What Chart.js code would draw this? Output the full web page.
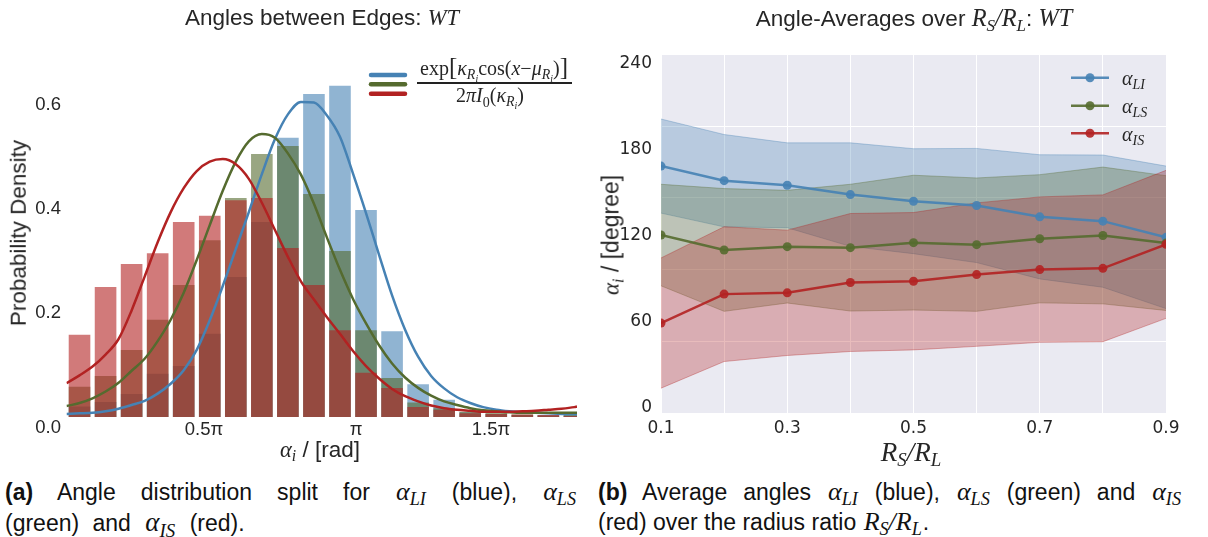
<!DOCTYPE html>
<html>
<head>
<meta charset="utf-8">
<title>Angles between Edges</title>
<script src="https://cdn.jsdelivr.net/npm/chart.js@4.4.0/dist/chart.umd.min.js"></script>
<style>
  body { margin: 0; background: #fff; }
  #page { position: relative; width: 1208px; height: 537px; overflow: hidden;
          font-family: "Liberation Sans", Arial, sans-serif; color: #262626; }
  canvas { position: absolute; top: 0; }
  .t { position: absolute; white-space: nowrap; transform: translate(-50%, -50%); line-height: 1; }
  .rot { transform: translate(-50%, -50%) rotate(-90deg); }
  .m { font-family: "Liberation Serif", "DejaVu Serif", serif; font-style: italic; }
  .up { font-style: normal; }
  sub { font-size: 0.7em; vertical-align: -0.3em; line-height: 0; }
  .cap { position: absolute; font-size: 23px; line-height: 30px; color: #111;
         font-family: "Liberation Sans", Arial, sans-serif; white-space: nowrap; }
  .cap .j { text-align: justify; text-align-last: justify; white-space: normal; }
  .cap .m { font-size: 26px; padding: 0 1px; }
  .leg { position: absolute; transform: translateY(-50%); font-size: 20px; line-height: 1; white-space: nowrap; }
</style>
</head>
<body>
<div id="page">
  <canvas id="hist" width="600" height="470" style="left:0"></canvas>
  <canvas id="avg" width="608" height="470" style="left:600px"></canvas>

  <div class="t" style="left:322px;top:18px;font-size:22.5px">Angles between Edges: <span class="m">WT</span></div>
  <div class="t" style="left:914px;top:18px;font-size:22.5px">Angle-Averages over <span class="m" style="font-size:1.08em">R<sub>S</sub>/R<sub>L</sub></span>: <span class="m" style="font-size:1.08em">WT</span></div>

  <div class="t rot" style="left:19px;top:233px;font-size:22.5px">Probability Density</div>
  <div class="t" style="left:320px;top:450px;font-size:22.5px"><span class="m">α<sub>i</sub></span> / [rad]</div>
  <div class="t m" style="left:911px;top:452px;font-size:27px">R<sub>S</sub>/R<sub>L</sub></div>
  <div class="t rot" style="left:611px;top:235px;font-size:23px"><span class="m">α<sub>i</sub></span> / [degree]</div>

  <!-- von Mises density shown next to the fit swatches -->
  <div class="t m" style="left:494px;top:67px;font-size:20px"><span class="up">exp</span><span class="up" style="font-size:1.25em">[</span>κ<sub>R<sub>i</sub></sub><span class="up">cos(</span>x<span class="up">−</span>μ<sub>R<sub>i</sub></sub><span class="up">)</span><span class="up" style="font-size:1.25em">]</span></div>
  <div style="position:absolute;left:417px;top:82px;width:155px;height:1.5px;background:#222"></div>
  <div class="t m" style="left:490px;top:96px;font-size:20px"><span class="up">2</span>π<span>I</span><sub class="up">0</sub><span class="up">(</span>κ<sub>R<sub>i</sub></sub><span class="up">)</span></div>

  <div class="leg m" style="left:1122px;top:78px">α<sub>LI</sub></div>
  <div class="leg m" style="left:1122px;top:106px">α<sub>LS</sub></div>
  <div class="leg m" style="left:1122px;top:134px">α<sub>IS</sub></div>

  <div class="cap" style="left:5px;top:477px;width:572px">
    <div class="j"><b>(a)</b> Angle distribution split for <span class="m">α<sub>LI</sub></span> (blue), <span class="m">α<sub>LS</sub></span></div>
    <div style="word-spacing:7px">(green) and <span class="m" style="font-size:27px">α<sub>IS</sub></span> (red).</div>
  </div>
  <div class="cap" style="left:598px;top:477px;width:584px">
    <div class="j"><b>(b)</b> Average angles <span class="m">α<sub>LI</sub></span> (blue), <span class="m">α<sub>LS</sub></span> (green) and <span class="m">α<sub>IS</sub></span></div>
    <div>(red) over the radius ratio <span class="m">R<sub>S</sub>/R<sub>L</sub></span>.</div>
  </div>
</div>

<script>
// ---- histogram of edge angles (bin index along x) ----
const binCenters = [0, 1, 2, 3, 4, 5, 6, 7, 8, 9, 10, 11, 12, 13, 14, 15, 16, 17, 18, 19];
const histLI = [0.020, 0.029, 0.044, 0.083, 0.098, 0.160, 0.269, 0.375, 0.537, 0.621,
                0.637, 0.398, 0.165, 0.063, 0.033, 0.009, 0.006, 0.004, 0.004, 0.004];
const histLS = [0.058, 0.079, 0.129, 0.187, 0.254, 0.340, 0.421, 0.506, 0.521, 0.429,
                0.319, 0.167, 0.075, 0.028, 0.017, 0.010, 0.009, 0.005, 0.003, 0.004];
const histIS = [0.158, 0.250, 0.294, 0.315, 0.375, 0.387, 0.417, 0.421, 0.325, 0.254,
                0.167, 0.085, 0.056, 0.019, 0.014, 0.007, 0.006, 0.005, 0.004, 0.002];

// fitted von Mises densities, sampled along the same bin axis
const curveX = [-0.5, 0, 0.5, 1, 1.5, 2, 2.5, 3, 3.5, 4, 4.5, 5, 5.5, 6, 6.5, 7, 7.5, 8, 8.5, 9,
                9.5, 10, 10.5, 11, 11.5, 12, 12.5, 13, 13.5, 14, 14.5, 15, 15.5, 16, 16.5, 17, 17.5, 18, 18.5, 19, 19.1];
const fitLI = [0.006, 0.007, 0.008, 0.011, 0.016, 0.023, 0.031, 0.045, 0.064, 0.090, 0.129, 0.186, 0.252, 0.323,
               0.394, 0.467, 0.534, 0.582, 0.606, 0.605, 0.580, 0.539, 0.468, 0.392, 0.312, 0.234, 0.168, 0.116,
               0.079, 0.055, 0.038, 0.027, 0.019, 0.014, 0.011, 0.009, 0.008, 0.007, 0.006, 0.006, 0.006];
const fitLS = [0.021, 0.027, 0.036, 0.049, 0.066, 0.089, 0.112, 0.146, 0.187, 0.239, 0.302, 0.369, 0.435, 0.491,
               0.530, 0.544, 0.537, 0.507, 0.466, 0.410, 0.345, 0.283, 0.227, 0.180, 0.138, 0.103, 0.076, 0.056,
               0.041, 0.030, 0.023, 0.017, 0.013, 0.011, 0.009, 0.008, 0.008, 0.008, 0.008, 0.008, 0.008];
const fitIS = [0.065, 0.080, 0.097, 0.120, 0.150, 0.205, 0.270, 0.336, 0.394, 0.440, 0.473, 0.491, 0.496, 0.486,
               0.458, 0.412, 0.360, 0.308, 0.261, 0.226, 0.192, 0.160, 0.127, 0.098, 0.074, 0.054, 0.040, 0.030,
               0.022, 0.017, 0.014, 0.012, 0.010, 0.010, 0.010, 0.011, 0.012, 0.014, 0.016, 0.019, 0.020];

const histTickLabels = ['0.5π', 'π', '1.5π'];
const histYTicks = [0, 0.2, 0.4, 0.6];

// ---- averages over the radius ratio ----
const rsRatio = [0.1, 0.2, 0.3, 0.4, 0.5, 0.6, 0.7, 0.8, 0.9];
const meanLI  = [172.2, 162.0, 158.8, 152.3, 147.7, 144.7, 136.8, 133.8, 122.5];
const upperLI = [205.0, 194.2, 188.4, 188.4, 184.3, 184.5, 180.1, 179.9, 172.2];
const lowerLI = [139.4, 129.8, 129.2, 116.2, 111.1, 104.9, 93.5, 87.7, 72.8];
const meanLS  = [124.1, 113.7, 116.0, 115.3, 118.8, 117.4, 121.5, 123.8, 118.5];
const upperLS = [159.5, 156.5, 155.3, 159.5, 165.8, 163.9, 166.2, 171.5, 165.5];
const lowerLS = [88.7, 70.9, 76.7, 71.1, 71.8, 70.9, 76.8, 76.1, 71.5];
const meanIS  = [62.7, 82.9, 83.8, 91.0, 91.9, 96.5, 100.0, 100.9, 117.6];
const upperIS = [108.1, 129.9, 127.5, 139.1, 139.8, 146.5, 150.7, 152.1, 169.2];
const lowerIS = [17.3, 35.9, 40.1, 42.9, 44.0, 46.5, 49.3, 49.7, 66.0];
const avgYLabels = [0, 60, 120, 180, 240];
const avgYGrid = [0, 50, 100, 150, 200, 250];

const BLUE = [70, 130, 180], GREEN = [85, 107, 47], RED = [178, 34, 34];
const rgba = (c, a) => `rgba(${c[0]},${c[1]},${c[2]},${a})`;
const pts = (xs, ys) => xs.map((x, i) => ({ x, y: ys[i] }));
const TXT = '#262626';

// draws the small legend swatches on the canvas
const swatchPlugin = {
  id: 'swatches',
  afterDraw(chart, args, opts) {
    const ctx = chart.ctx;
    ctx.save();
    opts.items.forEach(it => {
      ctx.strokeStyle = it.color;
      ctx.lineWidth = opts.lineWidth;
      ctx.lineCap = opts.cap;
      ctx.beginPath();
      ctx.moveTo(opts.x0, it.y);
      ctx.lineTo(opts.x1, it.y);
      ctx.stroke();
      if (opts.dot) {
        ctx.fillStyle = it.color;
        ctx.beginPath();
        ctx.arc((opts.x0 + opts.x1) / 2, it.y, opts.dot, 0, Math.PI * 2);
        ctx.fill();
      }
    });
    ctx.restore();
  }
};

// plot-area background
const panelPlugin = {
  id: 'panel',
  beforeDraw(chart, args, opts) {
    if (!opts.color) return;
    const a = chart.chartArea, ctx = chart.ctx;
    ctx.save();
    ctx.fillStyle = opts.color;
    ctx.fillRect(a.left, a.top, a.right - a.left, a.bottom - a.top);
    ctx.restore();
  }
};

Chart.register(swatchPlugin, panelPlugin);

const fitLine = (label, xs, ys, c, order) => ({
  type: 'line', label, data: pts(xs, ys), borderColor: rgba(c, 1), borderWidth: 2.5,
  pointRadius: 0, cubicInterpolationMode: 'monotone', fill: false, order
});
const histBars = (label, ys, c, order) => ({
  type: 'bar', label, data: pts(binCenters, ys), backgroundColor: rgba(c, 0.6),
  borderWidth: 0, grouped: false, barPercentage: 0.83, categoryPercentage: 1, order
});

new Chart(document.getElementById('hist'), {
  type: 'bar',
  data: {
    datasets: [
      fitLine('fit IS', curveX, fitIS, RED, 0),
      fitLine('fit LS', curveX, fitLS, GREEN, 1),
      fitLine('fit LI', curveX, fitLI, BLUE, 2),
      histBars('IS', histIS, RED, 3),
      histBars('LS', histLS, GREEN, 4),
      histBars('LI', histLI, BLUE, 5)
    ]
  },
  options: {
    responsive: false, animation: false, devicePixelRatio: 1,
    layout: { padding: { top: 63.4, right: 23, left: 0, bottom: 0 } },
    plugins: {
      legend: { display: false }, tooltip: { enabled: false },
      panel: {},
      swatches: { x0: 371, x1: 405, lineWidth: 4.5, cap: 'round', dot: 0,
                  items: [{ y: 75, color: rgba(BLUE, 1) }, { y: 84.3, color: rgba(GREEN, 1) }, { y: 93.7, color: rgba(RED, 1) }] }
    },
    scales: {
      x: {
        type: 'linear', min: -0.5, max: 19.1, offset: false,
        grid: { display: false, drawTicks: false }, border: { display: false },
        afterBuildTicks: s => { s.ticks = [4.78, 10.62, 15.8].map(v => ({ value: v })); },
        ticks: { callback: (v, i) => histTickLabels[i], autoSkip: false, maxRotation: 0, padding: 2,
                 color: TXT, font: { family: 'Liberation Sans', size: 18.5 } },
        afterFit: s => { s.height = 53; }
      },
      y: {
        min: 0, max: 0.68,
        grid: { display: false, drawTicks: false }, border: { display: false },
        afterBuildTicks: s => { s.ticks = histYTicks.map(v => ({ value: v })); },
        ticks: { callback: v => (v === 0 ? ['', '0.0'] : v.toFixed(1)), padding: 5.5, color: TXT,
                 font: { family: 'Liberation Sans', size: 18.5, lineHeight: 1.2 } },
        afterFit: s => { s.width = 66.5; }
      }
    }
  }
});

const band = (label, ys, c, fill, order) => ({
  label, data: pts(rsRatio, ys), fill, backgroundColor: rgba(c, 0.3), borderColor: rgba(c, 0.35),
  borderWidth: 1, pointRadius: 0, order
});
const meanLine = (label, ys, c, order) => ({
  label, data: pts(rsRatio, ys), fill: false, borderColor: rgba(c, 0.9), borderWidth: 2.5,
  pointRadius: 4.5, pointBackgroundColor: rgba(c, 0.9), pointBorderWidth: 0, order
});

new Chart(document.getElementById('avg'), {
  type: 'line',
  data: {
    datasets: [
      band('LI upper', upperLI, BLUE, '+1', 7), band('LI lower', lowerLI, BLUE, false, 8),
      band('LS upper', upperLS, GREEN, '+1', 5), band('LS lower', lowerLS, GREEN, false, 6),
      band('IS upper', upperIS, RED, '+1', 3), band('IS lower', lowerIS, RED, false, 4),
      meanLine('α_LI', meanLI, BLUE, 2),
      meanLine('α_LS', meanLS, GREEN, 1),
      meanLine('α_IS', meanIS, RED, 0)
    ]
  },
  options: {
    responsive: false, animation: false, devicePixelRatio: 1,
    layout: { padding: { top: 54.5, right: 42, left: 0, bottom: 0 } },
    plugins: {
      legend: { display: false }, tooltip: { enabled: false },
      panel: { color: '#EAEAF2' },
      swatches: { x0: 471, x1: 509, lineWidth: 2.5, cap: 'butt', dot: 4.5,
                  items: [{ y: 77.7, color: rgba(BLUE, 0.9) }, { y: 105.7, color: rgba(GREEN, 0.9) }, { y: 133.3, color: rgba(RED, 0.9) }] }
    },
    scales: {
      x: {
        type: 'linear', min: 0.1, max: 0.9, offset: false,
        grid: { color: '#ffffff', lineWidth: 1, drawTicks: false }, border: { display: false },
        afterBuildTicks: s => { s.ticks = rsRatio.map(v => ({ value: v })); },
        ticks: { callback: v => (Math.round(v * 10) % 2 === 1 ? v.toFixed(1) : ''), autoSkip: false, maxRotation: 0,
                 padding: 5.5, color: TXT, font: { family: 'DejaVu Sans', size: 17 } },
        afterFit: s => { s.height = 57; }
      },
      y: {
        min: 0, max: 250,
        grid: { color: ctx => (ctx.tick && avgYGrid.includes(ctx.tick.value) ? '#ffffff' : 'rgba(0,0,0,0)'),
                lineWidth: 1, drawTicks: false },
        border: { display: false },
        afterBuildTicks: s => {
          const vals = Array.from(new Set(avgYGrid.concat(avgYLabels))).sort((a, b) => a - b);
          s.ticks = vals.map(v => ({ value: v }));
        },
        ticks: { callback: v => (avgYLabels.includes(v) ? String(v) : ''), autoSkip: false, labelOffset: -5,
                 padding: 9, color: TXT, font: { family: 'DejaVu Sans', size: 17 } },
        afterFit: s => { s.width = 61; }
      }
    }
  }
});
</script>
</body>
</html>
